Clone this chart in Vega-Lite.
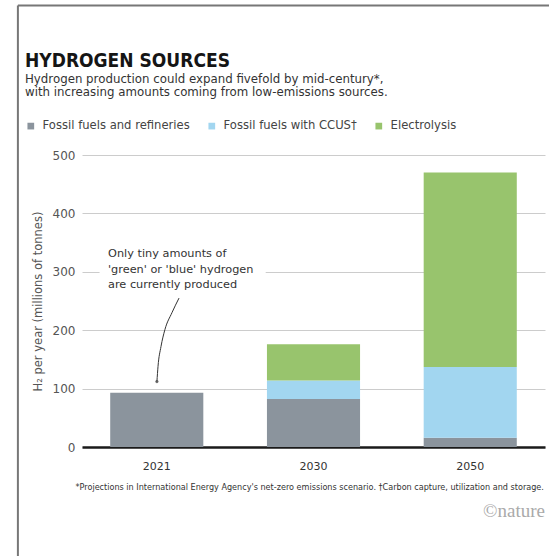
{
  "$schema": "https://vega.github.io/schema/vega-lite/v6.json",
  "width": 463,
  "height": 292,
  "autosize": {"type": "none"},
  "padding": {"left": 82, "top": 155, "right": 4, "bottom": 109},
  "background": "white",
  "config": {"view": {"stroke": null}, "font": "DejaVu Sans"},
  "title": {
    "text": "HYDROGEN SOURCES",
    "subtitle": ["Hydrogen production could expand fivefold by mid-century*,", "with increasing amounts coming from low-emissions sources."],
    "anchor": "start",
    "frame": "group",
    "dx": -57,
    "font": "DejaVu Sans Condensed, Liberation Sans Narrow, Arial Narrow, sans-serif",
    "fontSize": 19,
    "fontWeight": "bold",
    "color": "#151515",
    "subtitleFont": "DejaVu Sans",
    "subtitleFontSize": 11.8,
    "subtitleColor": "#333333",
    "subtitleLineHeight": 12.5,
    "subtitlePadding": 3,
    "offset": -94
  },
  "resolve": {"scale": {"x": "independent"}, "axis": {"x": "independent"}},
  "layer": [
    {
      "data": {"values": [
        {"year": "2021", "source": "Fossil fuels and refineries", "value": 93, "order": 1},
        {"year": "2030", "source": "Fossil fuels and refineries", "value": 82, "order": 1},
        {"year": "2030", "source": "Fossil fuels with CCUS†", "value": 32, "order": 2},
        {"year": "2030", "source": "Electrolysis", "value": 62, "order": 3},
        {"year": "2050", "source": "Fossil fuels and refineries", "value": 16, "order": 1},
        {"year": "2050", "source": "Fossil fuels with CCUS†", "value": 121, "order": 2},
        {"year": "2050", "source": "Electrolysis", "value": 333, "order": 3}
      ]},
      "mark": {"type": "bar"},
      "encoding": {
        "x": {
          "field": "year", "type": "nominal",
          "scale": {"paddingInner": 0.406, "paddingOuter": 0.18, "align": 0.5},
          "axis": {
            "labelAngle": 0, "labelFontSize": 11, "labelColor": "#333333", "labelPadding": 13,
            "ticks": false, "domainColor": "#1a1a1a", "domainWidth": 2.5,
            "title": "*Projections in International Energy Agency's net-zero emissions scenario. †Carbon capture, utilization and storage.",
            "titleFontSize": 8.1, "titleFontWeight": "normal", "titleColor": "#333333",
            "titleAnchor": "start", "titleAlign": "left", "titleX": -7, "titleY": 40, "titleBaseline": "middle"
          }
        },
        "y": {
          "field": "value", "type": "quantitative", "stack": "zero",
          "scale": {"domain": [0, 500]},
          "axis": {
            "values": [0, 100, 200, 300, 400, 500], "grid": true, "gridColor": "#cccccc", "gridWidth": 1,
            "domain": false, "ticks": false, "labelPadding": 7, "labelFontSize": 12, "labelColor": "#555555",
            "title": "H₂ per year (millions of tonnes)", "titleFontSize": 11.5, "titleFontWeight": "normal",
            "titleColor": "#555555", "titlePadding": 9
          }
        },
        "color": {
          "field": "source", "type": "nominal",
          "scale": {"domain": ["Fossil fuels and refineries", "Fossil fuels with CCUS†", "Electrolysis"], "range": ["#8b949d", "#a2d6f0", "#98c46d"]},
          "legend": {
            "orient": "none", "legendX": -57, "legendY": -35, "direction": "horizontal",
            "title": null, "symbolType": "square", "symbolSize": 45, "symbolStrokeWidth": 0,
            "labelFont": "DejaVu Sans", "labelFontSize": 11.6, "labelColor": "#444444", "columnPadding": 16, "labelOffset": 6
          }
        },
        "order": {"field": "order", "type": "quantitative"}
      }
    },
    {
      "layer": [
        {
          "data": {"values": [{}]},
          "mark": {"type": "rect", "color": "white"},
          "encoding": {
            "x": {"datum": 0.64, "type": "quantitative", "scale": {"domain": [0.528, 3.482]}, "axis": null},
            "x2": {"datum": 1.7},
            "y": {"datum": 290},
            "y2": {"datum": 312}
          }
        },
        {
          "data": {"values": [
            {"ax": 1.147, "ay": 255},
            {"ax": 1.102, "ay": 230},
            {"ax": 1.057, "ay": 201},
            {"ax": 1.032, "ay": 172},
            {"ax": 1.013, "ay": 138},
            {"ax": 1.006, "ay": 112}
          ]},
          "mark": {"type": "line", "interpolate": "monotone", "color": "#333333", "strokeWidth": 1},
          "encoding": {
            "x": {"field": "ax", "type": "quantitative", "scale": {"domain": [0.528, 3.482]}, "axis": null},
            "y": {"field": "ay", "type": "quantitative"},
            "order": {"field": "ay", "type": "quantitative"}
          }
        },
        {
          "data": {"values": [{}]},
          "mark": {"type": "point", "filled": true, "color": "#333333", "size": 10},
          "encoding": {
            "x": {"datum": 1.006, "type": "quantitative", "scale": {"domain": [0.528, 3.482]}, "axis": null},
            "y": {"datum": 112}
          }
        },
        {
          "data": {"values": [{}]},
          "mark": {"type": "text", "align": "left", "baseline": "middle", "fontSize": 11.3, "fontWeight": "normal", "color": "#333333", "lineHeight": 15.5, "font": "DejaVu Sans"},
          "encoding": {
            "x": {"datum": 0.694, "type": "quantitative", "scale": {"domain": [0.528, 3.482]}, "axis": null},
            "y": {"datum": 330},
            "text": {"value": ["Only tiny amounts of", "'green' or 'blue' hydrogen", "are currently produced"]}
          }
        },
        {
          "data": {"values": [{}]},
          "mark": {"type": "text", "align": "right", "baseline": "middle", "fontSize": 19, "fontWeight": "normal", "color": "#aaaaaa", "font": "Liberation Serif"},
          "encoding": {
            "x": {"datum": 3.482, "type": "quantitative", "scale": {"domain": [0.528, 3.482]}, "axis": null},
            "y": {"datum": -110},
            "text": {"value": "©nature"}
          }
        },
        {
          "data": {"values": [{}]},
          "mark": {"type": "rule", "color": "#777777", "strokeWidth": 2},
          "encoding": {
            "x": {"datum": 0.119, "type": "quantitative", "scale": {"domain": [0.528, 3.482]}, "axis": null},
            "y": {"datum": 756},
            "y2": {"datum": -200}
          }
        },
        {
          "data": {"values": [{}]},
          "mark": {"type": "rule", "color": "#777777", "strokeWidth": 2},
          "encoding": {
            "x": {"datum": 0.119, "type": "quantitative", "scale": {"domain": [0.528, 3.482]}, "axis": null},
            "x2": {"datum": 3.62},
            "y": {"datum": 756}
          }
        }
      ]
    }
  ]
}
